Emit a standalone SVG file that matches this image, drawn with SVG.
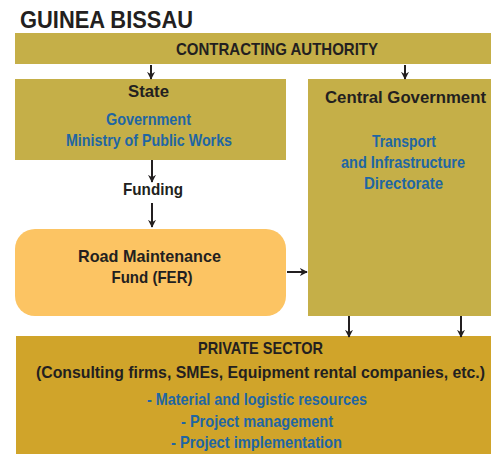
<svg xmlns="http://www.w3.org/2000/svg" width="491" height="454" viewBox="0 0 491 454">
<defs>
<style>
.t{font-family:"Liberation Sans",Arial,sans-serif;font-weight:bold;fill:#231f20;text-anchor:middle;font-size:17px}
.b{font-family:"Liberation Sans",Arial,sans-serif;font-weight:bold;fill:#1f66a3;text-anchor:middle;font-size:17px}
.olive{fill:#c5af48}
.conn line{stroke:#231f20;stroke-width:2}
</style>
<marker id="ah" viewBox="0 0 10 10" refX="9" refY="5" markerWidth="8" markerHeight="8" orient="auto" markerUnits="userSpaceOnUse">
<path d="M0,0 L10,5 L0,10 L3,5 Z" fill="#231f20"/>
</marker>
</defs>
<rect width="491" height="454" fill="#ffffff"/>
<text x="20" y="28" font-family="Liberation Sans,Arial,sans-serif" font-weight="bold" font-size="24" fill="#231f20" textLength="173" lengthAdjust="spacingAndGlyphs">GUINEA BISSAU</text>
<g id="contracting">
<rect class="olive" x="15" y="33" width="476" height="31"/>
<text class="t" x="277" y="55" textLength="202" lengthAdjust="spacingAndGlyphs">CONTRACTING AUTHORITY</text>
</g>
<g id="state">
<rect class="olive" x="15" y="79" width="271" height="81"/>
<text class="t" x="148.5" y="97" textLength="41" lengthAdjust="spacingAndGlyphs">State</text>
<text class="b" x="148.5" y="125" textLength="85" lengthAdjust="spacingAndGlyphs">Government</text>
<text class="b" x="149" y="146" textLength="166" lengthAdjust="spacingAndGlyphs">Ministry of Public Works</text>
</g>
<g id="central">
<rect class="olive" x="308" y="79" width="183" height="237"/>
<text class="t" x="405.5" y="103" textLength="161" lengthAdjust="spacingAndGlyphs">Central Government</text>
<text class="b" x="404" y="147" textLength="64" lengthAdjust="spacingAndGlyphs">Transport</text>
<text class="b" x="403" y="168" textLength="124" lengthAdjust="spacingAndGlyphs">and Infrastructure</text>
<text class="b" x="403.5" y="189" textLength="79" lengthAdjust="spacingAndGlyphs">Directorate</text>
</g>
<g id="funding">
<text class="t" x="153" y="195" textLength="60" lengthAdjust="spacingAndGlyphs">Funding</text>
</g>
<g id="fer">
<rect x="15" y="229" width="271" height="87" rx="20" ry="20" fill="#fcc463"/>
<text class="t" x="149.5" y="262" textLength="143" lengthAdjust="spacingAndGlyphs">Road Maintenance</text>
<text class="t" x="152" y="283" textLength="81" lengthAdjust="spacingAndGlyphs">Fund (FER)</text>
</g>
<g id="private">
<rect x="16" y="336" width="475" height="118" fill="#d0a42a"/>
<text class="t" x="260.5" y="354" textLength="125" lengthAdjust="spacingAndGlyphs">PRIVATE SECTOR</text>
<text class="t" x="260.5" y="378" style="font-size:16px" textLength="449" lengthAdjust="spacingAndGlyphs">(Consulting firms, SMEs, Equipment rental companies, etc.)</text>
<text class="b" x="257" y="405" textLength="220" lengthAdjust="spacingAndGlyphs">- Material and logistic resources</text>
<text class="b" x="257" y="427" textLength="152" lengthAdjust="spacingAndGlyphs">- Project management</text>
<text class="b" x="256.5" y="448" textLength="171" lengthAdjust="spacingAndGlyphs">- Project implementation</text>
</g>
<g id="connectors" class="conn">
<line x1="151" y1="65" x2="151" y2="79" marker-end="url(#ah)"/>
<line x1="405" y1="65" x2="405" y2="79" marker-end="url(#ah)"/>
<line x1="152" y1="160" x2="152" y2="182" marker-end="url(#ah)"/>
<line x1="152" y1="203" x2="152" y2="227" marker-end="url(#ah)"/>
<line x1="287" y1="272" x2="307" y2="272" marker-end="url(#ah)"/>
<line x1="349" y1="316" x2="349" y2="337" marker-end="url(#ah)"/>
<line x1="461" y1="316" x2="461" y2="337" marker-end="url(#ah)"/>
</g>
</svg>
